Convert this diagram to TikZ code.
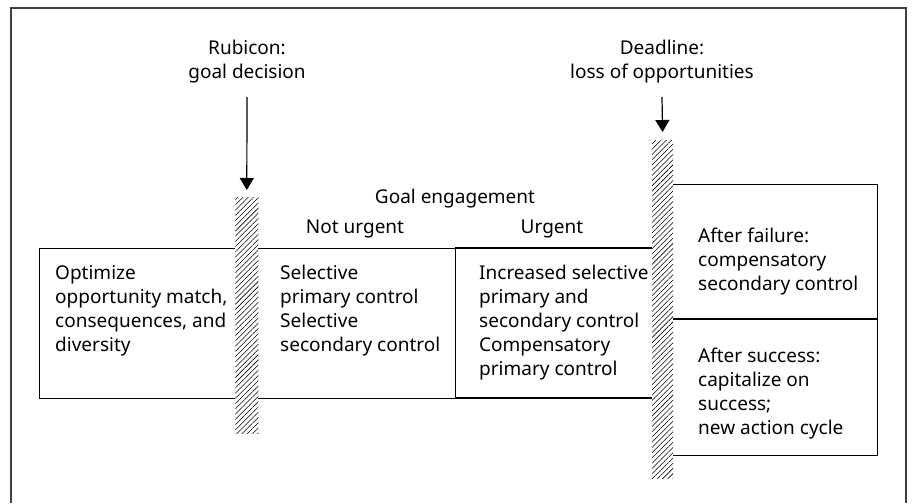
\documentclass[tikz,border=0pt]{standalone}
\usepackage{fontspec}
\setmainfont{Noto Sans}
\usetikzlibrary{patterns.meta,arrows.meta}
\begin{document}
\begin{tikzpicture}[x=1pt,y=-1pt,
  txt/.style={font=\fontsize{19}{24}\selectfont, inner sep=0pt, align=left, anchor=base west},
  ctxt/.style={font=\fontsize{19}{24}\selectfont, inner sep=0pt, align=center, anchor=base},
  boxline/.style={draw=black, line width=1.2pt},
  hatchbar/.style={fill=white, pattern={Lines[angle=45,distance=3.7pt,line width=0.55pt]}, pattern color=black},
  arr/.style={draw=black, line width=1.2pt, -{Triangle[width=14pt,length=12pt]}}
]
\useasboundingbox (0,0) rectangle (912,503);
% outer frame
\draw[line width=1.3pt, draw=black!75] (11,503) -- (11,8) -- (906,8) -- (906,503);

% main boxes
\node[boxline, minimum width=416pt, minimum height=150pt, anchor=north west, inner sep=0pt] (main) at (39,248) {};
\node[boxline, minimum width=205pt, minimum height=271pt, anchor=north west, inner sep=0pt] (right) at (672,184) {};
\draw[line width=1.2pt] (672,319) -- (877,319);
\draw[line width=1.2pt] (455,248) -- (662,248);
\draw[line width=1.2pt] (455,398) -- (662,398);

% hatched bars
\fill[white] (235,197) rectangle (258,433);
\node[hatchbar, minimum width=23pt, minimum height=236pt, anchor=north west, inner sep=0pt] (rubbar) at (235,197) {};
\fill[white] (652,140) rectangle (673,478);
\node[hatchbar, minimum width=21pt, minimum height=338pt, anchor=north west, inner sep=0pt] (deadbar) at (652,140) {};

% labels (base anchor = baseline of last line)
\node[ctxt] (rubicon) at (247,78) {Rubicon:\\goal decision};
\node[ctxt] (deadline) at (662,78) {Deadline:\\loss of opportunities};
\draw[arr, shorten >=7pt] (247,97) -- (rubbar.north);
\draw[arr, shorten >=8pt] (662,97) -- (deadbar.north);

\node[ctxt] (goal) at (455,203) {Goal engagement};
\node[ctxt] (noturg) at (355,233) {Not urgent};
\node[ctxt] (urg) at (552,233) {Urgent};

\node[txt] (t1) at (55,351) {Optimize\\opportunity match,\\consequences, and\\diversity};
\node[txt] (t2) at (280,351) {Selective\\primary control\\Selective\\secondary control};
\node[txt] (t3) at (479,375) {Increased selective\\primary and\\secondary control\\Compensatory\\primary control};
\node[txt] (t4) at (698,290) {After failure:\\compensatory\\secondary control};
\node[txt] (t5) at (698,434) {After success:\\capitalize on\\success;\\new action cycle};
\end{tikzpicture}
\end{document}
